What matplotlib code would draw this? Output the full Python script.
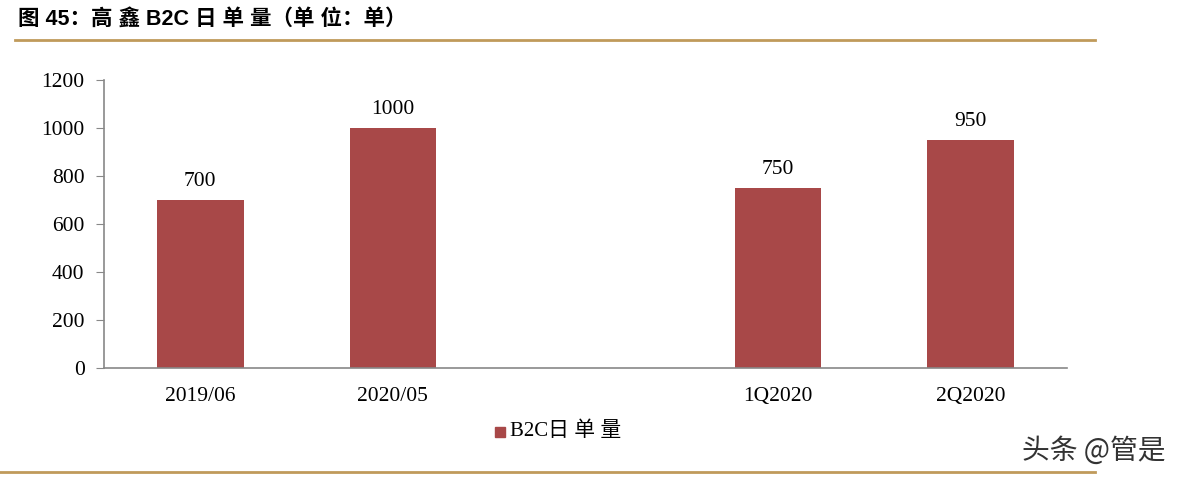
import matplotlib.pyplot as plt
from matplotlib.lines import Line2D
from matplotlib.patches import Rectangle

categories = ['2019/06', '2020/05', '', '1Q2020', '2Q2020']
values = [700, 1000, None, 750, 950]
series_name = 'B2C日 单 量'
title = '图 45：高 鑫 B2C 日 单 量（单 位：单）'
watermark = '头条 @管是'

bar_color = '#A84848'
line_color = '#C09A5B'
serif = ['Liberation Serif', 'Noto Sans CJK SC']

fig = plt.figure(figsize=(11.79, 4.8), dpi=100)
ax = fig.add_axes([104 / 1179, 1 - 368 / 480, 963 / 1179, 288 / 480])

xs = [i for i, v in enumerate(values) if v is not None]
hs = [v for v in values if v is not None]
bars = ax.bar(xs, hs, width=0.45, color=bar_color)
for x, h in zip(xs, hs):
    ax.text(x, h + 38, str(h), ha='center', va='bottom', fontsize=15.5, family=serif)

ax.set_xlim(-0.5, len(categories) - 0.5)
ax.set_ylim(0, 1200)
ax.set_yticks(range(0, 1201, 200))
ax.set_xticks(range(len(categories)))
ax.set_xticklabels(categories, family=serif, fontsize=15.5)
for lab in ax.get_yticklabels():
    lab.set_family(serif)
    lab.set_fontsize(15.5)
ax.tick_params(axis='x', length=0, pad=14)
ax.tick_params(axis='y', length=6, color='#888888', direction='out', pad=8)
for s in ['top', 'right']:
    ax.spines[s].set_visible(False)
for s in ['left', 'bottom']:
    ax.spines[s].set_color('#888888')
    ax.spines[s].set_linewidth(1.2)

# title and decorative lines
fig.text(18 / 1179, 1 - 19 / 480, title, fontsize=15.5, fontweight='bold',
         family=['Liberation Sans', 'Noto Sans CJK SC'], va='center', ha='left')
fig.add_artist(Line2D([15 / 1179, 1095 / 1179], [1 - 40 / 480] * 2, color=line_color, lw=2))
fig.add_artist(Line2D([0, 1095 / 1179], [1 - 472 / 480] * 2, color=line_color, lw=2))

# legend
fig.add_artist(Rectangle((495 / 1179, 1 - 437 / 480), 10 / 1179, 10 / 480,
                         transform=fig.transFigure, color=bar_color))
fig.text(510 / 1179, 1 - 431 / 480, series_name, fontsize=15, family=serif,
         va='center', ha='left')

fig.text(1165 / 1179, 1 - 451 / 480, watermark, fontsize=20, color='#333333',
         family=['Noto Sans CJK SC', 'DejaVu Sans'], va='center', ha='right')

fig.savefig('out.png', dpi=100)
